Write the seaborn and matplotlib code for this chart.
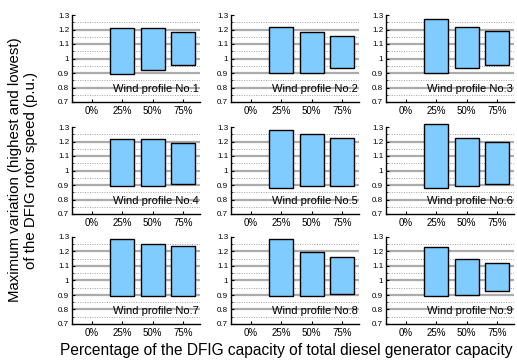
import numpy as np
import pandas as pd
import matplotlib
matplotlib.use("Agg")
import matplotlib.pyplot as plt
import seaborn as sns

# Capacity shares shown on every panel (0% has no DFIG, so no bar)
categories = ["0%", "25%", "50%", "75%"]
bar_categories = ["25%", "50%", "75%"]
profiles = [f"Wind profile No.{i}" for i in range(1, 10)]

# Lowest and highest DFIG rotor speed (p.u.) per wind profile, for 25/50/75 %
speed_low = [
    [0.895, 0.920, 0.955],
    [0.900, 0.900, 0.935],
    [0.900, 0.935, 0.955],
    [0.895, 0.895, 0.905],
    [0.880, 0.890, 0.895],
    [0.880, 0.895, 0.905],
    [0.890, 0.895, 0.895],
    [0.895, 0.895, 0.905],
    [0.895, 0.900, 0.930],
]
speed_high = [
    [1.210, 1.210, 1.180],
    [1.215, 1.180, 1.155],
    [1.275, 1.215, 1.190],
    [1.215, 1.215, 1.190],
    [1.280, 1.255, 1.225],
    [1.320, 1.225, 1.200],
    [1.285, 1.255, 1.240],
    [1.285, 1.195, 1.165],
    [1.230, 1.145, 1.120],
]

y_major = [0.7, 0.8, 0.9, 1.0, 1.1, 1.2, 1.3]
y_major_labels = ["0.7", "0.8", "0.9", "1", "1.1", "1.2", "1.3"]
y_minor = [0.75, 0.85, 0.95, 1.05, 1.15, 1.25]

sns.set_theme(style="white")
plt.rcParams["font.family"] = ["Liberation Sans", "DejaVu Sans"]

W, H = 517, 364
fig = plt.figure(figsize=(W / 100, H / 100), dpi=100)

col_left = [72, 231, 386]
col_width = 128
row_top = [15, 127, 237]
row_height = 87

bar_color = "#80ccff"

for k, name in enumerate(profiles):
    r, c = divmod(k, 3)
    rect = [col_left[c] / W, 1 - (row_top[r] + row_height) / H,
            col_width / W, row_height / H]
    ax = fig.add_axes(rect)

    df = pd.DataFrame({
        "capacity": bar_categories,
        "span": np.array(speed_high[k]) - np.array(speed_low[k]),
    })

    # grid: solid grey at the tenths, dotted between them
    ax.hlines(y_major[1:-1], -0.7, 3.6, colors="#ababab", linewidth=1.6, zorder=0)
    ax.hlines(y_minor, -0.7, 3.6, colors="#a0a0a0", linewidth=0.7,
              linestyles=(0, (1, 1.5)), zorder=0)

    sns.barplot(data=df, x="capacity", y="span", order=categories, ax=ax,
                bottom=speed_low[k], color=bar_color, saturation=1,
                edgecolor="black", linewidth=1.0, width=0.8, errorbar=None,
                clip_on=False, zorder=2)

    ax.set_xlim(-0.65, 3.55)
    ax.set_ylim(0.7, 1.3)
    ax.set_yticks(y_major)
    ax.set_yticklabels(y_major_labels)
    ax.set_yticks(y_minor, minor=True)
    ax.set_xlabel("")
    ax.set_ylabel("")

    for side in ("top", "right"):
        ax.spines[side].set_visible(False)
    for side in ("left", "bottom"):
        ax.spines[side].set_color("black")
        ax.spines[side].set_linewidth(1.0)
        ax.spines[side].set_zorder(3)

    ax.tick_params(axis="y", which="major", direction="in", length=2.5, width=0.8,
                   labelsize=5.8, pad=2, left=True, colors="black")
    ax.tick_params(axis="y", which="minor", direction="in", length=1.5, width=0.6,
                   left=True)
    ax.tick_params(axis="x", direction="in", length=2, width=0.8,
                   labelsize=7, pad=3, bottom=True, colors="black")

    ax.text(0.99, 0.15, name, transform=ax.transAxes, ha="right", va="center",
            fontsize=8, color="black", zorder=4)

fig.text(23 / W, 1 - 170 / H,
         "Maximum variation (highest and lowest)\nof the DFIG rotor speed (p.u.)",
         rotation=90, ha="center", va="center", fontsize=10.8,
         linespacing=1.2, color="black")
fig.text(286 / W, 1 - 351 / H,
         "Percentage of the DFIG capacity of total diesel generator capacity",
         ha="center", va="center", fontsize=11.2, color="black")

fig.savefig("out.png", dpi=100)
